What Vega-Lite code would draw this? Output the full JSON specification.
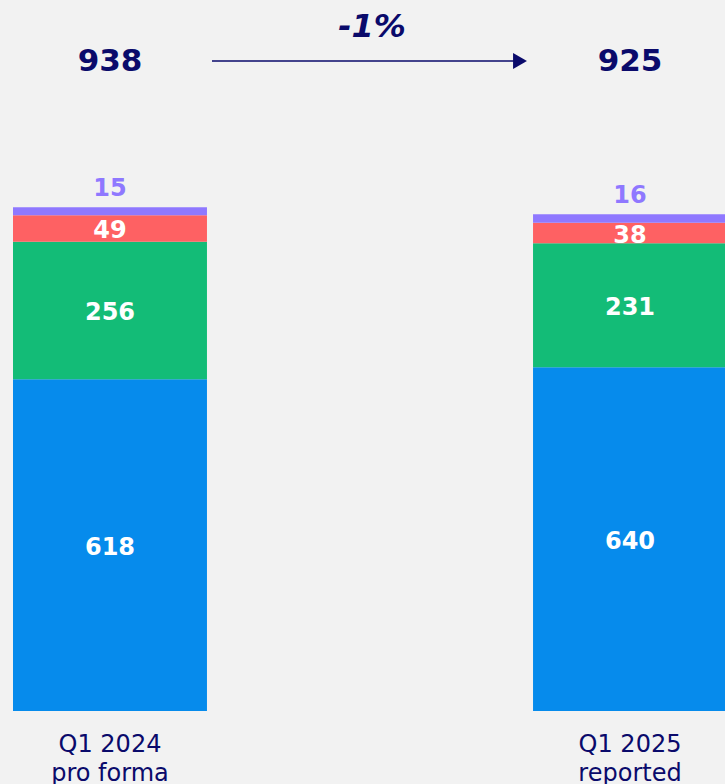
{
  "$schema": "https://vega.github.io/schema/vega-lite/v6.json",
  "width": 725,
  "height": 711,
  "autosize": {"type": "none"},
  "padding": {"top": 0, "left": 0, "right": 0, "bottom": 73},
  "background": "#f2f2f2",
  "config": {"view": {"stroke": null}, "font": "DejaVu Sans"},
  "datasets": {
    "segments": [
      {"period": "Q1 2024|pro forma", "segment": "A", "rank": 1, "value": 618},
      {"period": "Q1 2024|pro forma", "segment": "B", "rank": 2, "value": 256},
      {"period": "Q1 2024|pro forma", "segment": "C", "rank": 3, "value": 49},
      {"period": "Q1 2024|pro forma", "segment": "D", "rank": 4, "value": 15},
      {"period": "Q1 2025|reported", "segment": "A", "rank": 1, "value": 640},
      {"period": "Q1 2025|reported", "segment": "B", "rank": 2, "value": 231},
      {"period": "Q1 2025|reported", "segment": "C", "rank": 3, "value": 38},
      {"period": "Q1 2025|reported", "segment": "D", "rank": 4, "value": 16}
    ],
    "totals": [
      {"period": "Q1 2024|pro forma", "total": 938},
      {"period": "Q1 2025|reported", "total": 925}
    ],
    "change": [
      {"from": "Q1 2024|pro forma", "to": "Q1 2025|reported", "label": "-1%"}
    ]
  },
  "layer": [
    {
      "data": {"name": "segments"},
      "mark": {"type": "bar"},
      "encoding": {
        "x": {
          "field": "period", "type": "nominal",
          "scale": {"range": [0, 740], "paddingInner": 0.627, "paddingOuter": 0.025},
          "axis": {
            "title": null, "domain": false, "ticks": false, "grid": false,
            "labelAngle": 0, "labelFontSize": 24, "labelColor": "#0a0a6b",
            "labelFont": "DejaVu Sans", "labelLineHeight": 29, "labelPadding": 21,
            "labelBaseline": "top", "labelExpr": "split(datum.value, '|')"
          }
        },
        "y": {
          "field": "value", "type": "quantitative", "stack": "zero",
          "scale": {"domain": [0, 1324], "nice": false}, "axis": null
        },
        "color": {
          "field": "segment", "type": "nominal",
          "scale": {"domain": ["A", "B", "C", "D"], "range": ["#068bec", "#13bc77", "#fe6163", "#8f78ff"]},
          "legend": null
        },
        "order": {"field": "rank", "type": "quantitative"}
      }
    },
    {
      "data": {"name": "segments"},
      "mark": {"type": "text", "fontSize": 24, "fontWeight": "bold", "color": "white", "baseline": "middle", "align": "center", "dy": 3},
      "encoding": {
        "x": {"field": "period", "type": "nominal"},
        "y": {"field": "value", "type": "quantitative", "stack": "zero", "bandPosition": 0.5},
        "detail": {"field": "segment"},
        "order": {"field": "rank", "type": "quantitative"},
        "text": {"condition": {"test": "datum.rank < 4", "field": "value", "type": "quantitative"}, "value": ""}
      }
    },
    {
      "data": {"name": "segments"},
      "mark": {"type": "text", "fontSize": 24, "fontWeight": "bold", "color": "#8f78ff", "baseline": "alphabetic", "align": "center", "dy": -11},
      "encoding": {
        "x": {"field": "period", "type": "nominal"},
        "y": {"field": "value", "type": "quantitative", "stack": "zero"},
        "detail": {"field": "segment"},
        "order": {"field": "rank", "type": "quantitative"},
        "text": {"condition": {"test": "datum.rank == 4", "field": "value", "type": "quantitative"}, "value": ""}
      }
    },
    {
      "data": {"name": "totals"},
      "mark": {"type": "text", "fontSize": 31, "fontWeight": "bold", "color": "#0a0a6b", "baseline": "alphabetic", "align": "center"},
      "encoding": {
        "x": {"field": "period", "type": "nominal"},
        "y": {"datum": 1192, "type": "quantitative"},
        "text": {"field": "total", "type": "quantitative"}
      }
    },
    {
      "data": {"name": "change"},
      "mark": {"type": "rule", "color": "#0a0a6b", "strokeWidth": 1.5, "xOffset": 102, "x2Offset": -111},
      "encoding": {
        "x": {"field": "from", "type": "nominal"},
        "x2": {"field": "to"},
        "y": {"datum": 1210.4, "type": "quantitative"}
      }
    },
    {
      "data": {"name": "change"},
      "mark": {"type": "point", "shape": "triangle-right", "filled": true, "size": 256, "color": "#0a0a6b", "opacity": 1, "strokeWidth": 0, "xOffset": -110},
      "encoding": {
        "x": {"field": "to", "type": "nominal"},
        "y": {"datum": 1210.4, "type": "quantitative"}
      }
    },
    {
      "data": {"name": "change"},
      "mark": {"type": "text", "fontSize": 32, "fontWeight": "bold", "fontStyle": "italic", "color": "#0a0a6b", "baseline": "alphabetic", "align": "center", "xOffset": 262},
      "encoding": {
        "x": {"field": "from", "type": "nominal"},
        "y": {"datum": 1255.6, "type": "quantitative"},
        "text": {"field": "label"}
      }
    }
  ]
}
